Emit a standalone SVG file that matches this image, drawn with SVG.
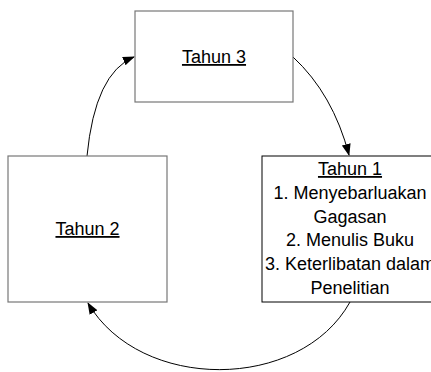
<svg xmlns="http://www.w3.org/2000/svg" width="431" height="372" viewBox="0 0 431 372">
<defs>
<marker id="ah" markerWidth="12" markerHeight="10" refX="11" refY="4.5" orient="auto" markerUnits="userSpaceOnUse">
<path d="M0,0 L12,4.5 L0,9 Z" fill="#000"/>
</marker>
<style>
.box{fill:#fff;stroke:#777;stroke-width:1.2}
.box1{fill:#fff;stroke:#000;stroke-width:1}
.t{font-family:"Liberation Sans",Arial,sans-serif;font-size:18px;fill:#000;text-anchor:middle}
.u{text-decoration:underline}
.c{fill:none;stroke:#000;stroke-width:1}
</style>
</defs>
<rect width="431" height="372" fill="#fff"/>
<g id="connectors">
<path class="c" d="M293,57 Q333,94 349,155" marker-end="url(#ah)"/>
<path class="c" d="M350,302 C300,392 140,392 88,303" marker-end="url(#ah)"/>
<path class="c" d="M87,156 Q95,73 134,57" marker-end="url(#ah)"/>
</g>
<g id="tahun3">
<rect class="box" x="135" y="11" width="158" height="91"/>
<text class="t u" x="214" y="63">Tahun 3</text>
</g>
<g id="tahun2">
<rect class="box" x="8" y="156" width="159" height="146"/>
<text class="t u" x="87.5" y="235">Tahun 2</text>
</g>
<g id="tahun1">
<rect class="box1" x="262" y="156" width="176" height="146"/>
<text class="t" x="350"><tspan class="u" x="350" y="175">Tahun 1</tspan><tspan x="350" y="198.8">1. Menyebarluakan</tspan><tspan x="350" y="222.6">Gagasan</tspan><tspan x="350" y="246.4">2. Menulis Buku</tspan><tspan x="350" y="270.2">3. Keterlibatan dalam</tspan><tspan x="350" y="294">Penelitian</tspan></text>
</g>
</svg>
